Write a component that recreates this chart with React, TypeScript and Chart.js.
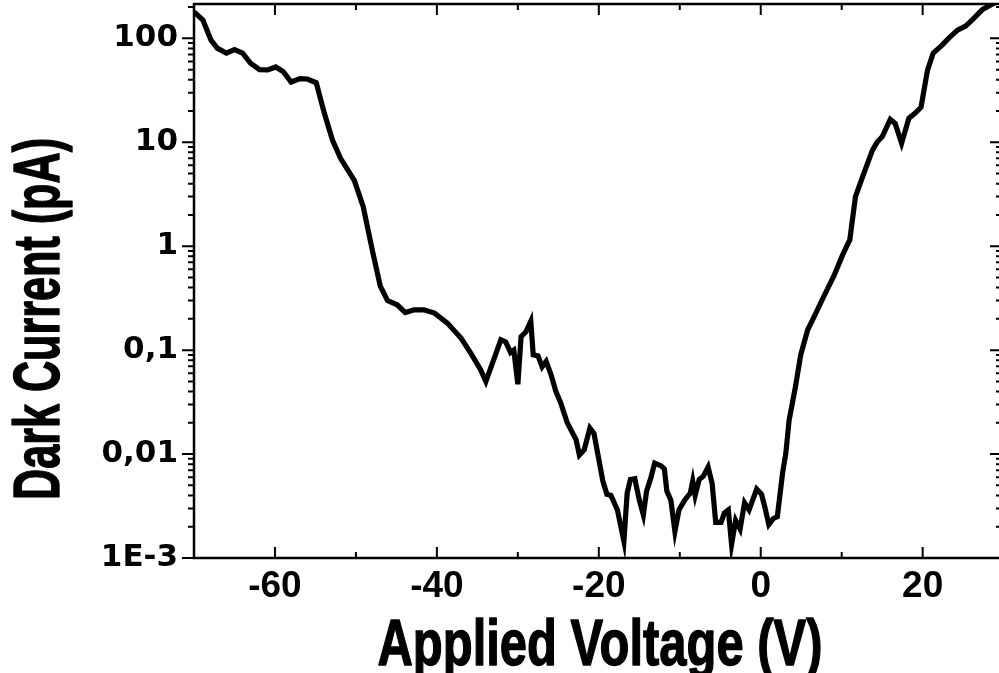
import React, { useEffect, useRef } from "react";
import { Chart, registerables } from "chart.js";

Chart.register(...registerables);

// ---- data ----
const voltage = [
  -70, -68.9, -67.9, -67.1, -66.0, -65.0, -64.0, -63.0, -61.9, -60.9,
  -59.9, -59.0, -58.0, -56.9, -56.0, -54.9, -53.9, -52.9, -51.9, -50.2,
  -49.1, -47.9, -47.0, -46.1, -44.9, -43.9, -42.8, -41.6, -40.3, -38.7,
  -37.0, -35.8, -34.6, -33.95, -32.7, -32.1, -31.5, -30.9, -30.5, -30.0,
  -29.6, -29.0, -28.4, -28.1, -27.5, -27.0, -26.5, -25.9, -25.3, -24.7,
  -23.9, -22.8, -22.4, -21.8, -21.1, -20.6, -20.1, -19.5, -19.0, -18.5,
  -17.7, -16.9, -16.5, -16.1, -15.55, -15.0, -14.5, -14.1, -13.6, -13.1,
  -12.3, -11.9, -11.6, -11.1, -10.6, -10.1, -9.4, -8.7, -8.4, -8.1,
  -7.6, -7.1, -6.5, -6.0, -5.56, -4.9, -4.5, -4.0, -3.6, -3.1,
  -2.55, -2.0, -1.44, -0.5, 0.1, 0.5, 1.0, 1.56, 2.05, 2.7,
  3.1, 3.5, 4.3, 4.94, 5.8, 6.6, 7.8, 9.05, 10.1, 10.7,
  11.0, 11.7, 12.6, 13.8, 14.4, 15.0, 16.0, 16.6, 17.4, 18.3,
  19.05, 19.8, 20.6, 21.3, 22.4, 23.2, 24.3, 25.3, 26.1, 27.4,
  28.4, 29.8,
];
const darkCurrent = [
  180, 150, 96, 80, 72, 78, 72, 57.5, 50, 49.6,
  53, 48, 38, 41, 40.6, 37.4, 19, 10.5, 7.0, 4.3,
  2.4, 0.86, 0.415, 0.3, 0.273, 0.23, 0.244, 0.244, 0.227, 0.182,
  0.13, 0.093, 0.065, 0.05, 0.093, 0.126, 0.12, 0.095, 0.1, 0.047,
  0.135, 0.15, 0.19, 0.09, 0.088, 0.069, 0.078, 0.058, 0.04, 0.031,
  0.02, 0.0137, 0.0098, 0.011, 0.0178, 0.0158, 0.0098, 0.0055, 0.0041, 0.004,
  0.0029, 0.00145, 0.0042, 0.0057, 0.0058, 0.0036, 0.0026, 0.0044, 0.0058, 0.0082,
  0.0077, 0.0072, 0.0044, 0.0036, 0.0018, 0.0029, 0.0036, 0.0042, 0.0055, 0.004,
  0.0057, 0.0061, 0.0075, 0.0052, 0.0022, 0.0022, 0.0027, 0.0029, 0.00135, 0.0023,
  0.0019, 0.0034, 0.0029, 0.0046, 0.0041, 0.0031, 0.0021, 0.0024, 0.0025, 0.0066,
  0.0102, 0.021, 0.045, 0.09, 0.157, 0.21, 0.33, 0.52, 0.82, 1.03,
  1.15, 3.0, 4.7, 8.4, 10.1, 11.3, 16.6, 15.2, 9.8, 17,
  19, 21.7, 49.5, 72, 86, 100, 120, 131, 150, 190,
  209, 240,
];

const xMajorTicks = [-60, -40, -20, 0, 20];
const xMinorTicks = [-70, -50, -30, -10, 10];
const yMajorTicks = [0.001, 0.01, 0.1, 1, 10, 100];
const yTickLabels = ["1E-3", "0,01", "0,1", "1", "10", "100"];
const yMinorMultipliers = [2, 3, 4, 5, 6, 7, 8, 9];
const xTitle = "Applied Voltage (V)";
const yTitle = "Dark Current (pA)";
const xMin = -70;
const xMax = 29.8;
const yMin = 0.001;
const yMax = 214;

const TITLE_FONT = "bold 65px 'Liberation Sans', Arial, sans-serif";

export default function App() {
  const ref = useRef<HTMLCanvasElement>(null);

  useEffect(() => {
    const canvas = ref.current!;

    const drawCondensed = (
      ctx: CanvasRenderingContext2D,
      text: string,
      cx: number,
      cy: number,
      targetWidth: number,
      rotate: boolean
    ) => {
      ctx.save();
      ctx.font = TITLE_FONT;
      ctx.fillStyle = "#000";
      ctx.strokeStyle = "#000";
      ctx.lineWidth = 1.4;
      ctx.lineJoin = "round";
      ctx.textAlign = "center";
      ctx.textBaseline = "alphabetic";
      const w = ctx.measureText(text).width;
      ctx.translate(cx, cy);
      if (rotate) ctx.rotate(-Math.PI / 2);
      ctx.scale(targetWidth / w, 1);
      ctx.fillText(text, 0, 0);
      ctx.strokeText(text, 0, 0);
      ctx.restore();
    };

    const framePlugin = {
      id: "frameTicks",
      afterDraw(chart: any) {
        const { ctx, chartArea } = chart;
        const { left, right, top, bottom } = chartArea;
        const xs = chart.scales.x;
        const ys = chart.scales.y;
        ctx.save();
        ctx.strokeStyle = "#000";
        ctx.lineWidth = 2.5;
        ctx.strokeRect(left, top, right - left, bottom - top);
        ctx.lineWidth = 2;
        ctx.beginPath();
        const xt = (v: number, len: number) => {
          const p = xs.getPixelForValue(v);
          ctx.moveTo(p, bottom);
          ctx.lineTo(p, bottom - len);
          ctx.moveTo(p, top);
          ctx.lineTo(p, top + len);
        };
        xMajorTicks.forEach((v) => xt(v, 11));
        xMinorTicks.forEach((v) => xt(v, 6));
        const yt = (v: number, len: number) => {
          const p = ys.getPixelForValue(v);
          ctx.moveTo(left, p);
          ctx.lineTo(left - len, p);
          ctx.moveTo(right, p);
          ctx.lineTo(right - len, p);
        };
        yMajorTicks.forEach((d) => {
          yt(d, 12);
          yMinorMultipliers.forEach((k) => {
            const v = d * k;
            if (v <= yMax) yt(v, 6);
          });
        });
        ctx.stroke();
        ctx.restore();
        // axis titles (condensed bold, as in the reference)
        drawCondensed(ctx, xTitle, (left + 1000) / 2 + 3, 665, 445, false);
        drawCondensed(ctx, yTitle, 59, 319, 362, true);
      },
    };

    const chart = new Chart(canvas, {
      type: "line",
      data: {
        datasets: [
          {
            data: voltage.map((v, i) => ({ x: v, y: darkCurrent[i] })),
            borderColor: "#000",
            borderWidth: 5.2,
            pointRadius: 0,
            tension: 0,
            borderJoinStyle: "miter",
            fill: false,
          },
        ],
      },
      options: {
        responsive: false,
        animation: false,
        devicePixelRatio: 1,
        layout: { padding: { top: 4, right: 2, left: 0, bottom: 0 } },
        plugins: { legend: { display: false }, tooltip: { enabled: false } },
        scales: {
          x: {
            type: "linear",
            min: xMin,
            max: xMax,
            afterFit(s: any) {
              s.height = 115;
              s.paddingLeft = 0;
              s.paddingRight = 0;
            },
            afterBuildTicks(s: any) {
              s.ticks = xMajorTicks.map((v) => ({ value: v }));
            },
            grid: { display: false, drawTicks: false },
            border: { display: false },
            ticks: {
              padding: 7,
              color: "#000",
              font: { family: "'Liberation Sans', Arial, sans-serif", size: 37, weight: "bold" },
              callback: (v: any) => String(v),
            },
            title: { display: false },
          },
          y: {
            type: "logarithmic",
            min: yMin,
            max: yMax,
            afterFit(s: any) {
              s.width = 194;
              s.paddingTop = 0;
              s.paddingBottom = 0;
            },
            afterBuildTicks(s: any) {
              s.ticks = yMajorTicks.map((v) => ({ value: v }));
            },
            grid: { display: false, drawTicks: false },
            border: { display: false },
            ticks: {
              padding: 16,
              color: "#000",
              font: { family: "'DejaVu Sans', sans-serif", size: 31, weight: "bold" },
              callback: (v: any) => {
                const i = yMajorTicks.indexOf(Number(v));
                return i >= 0 ? yTickLabels[i] : "";
              },
            },
          },
        },
      },
      plugins: [framePlugin],
    } as any);
    return () => chart.destroy();
  }, []);

  return (
    <div
      style={{
        position: "fixed",
        left: 0,
        top: 0,
        width: 999,
        height: 673,
        overflow: "hidden",
        background: "#fff",
      }}
    >
      <canvas ref={ref} width={1004} height={673} style={{ display: "block" }} />
    </div>
  );
}
